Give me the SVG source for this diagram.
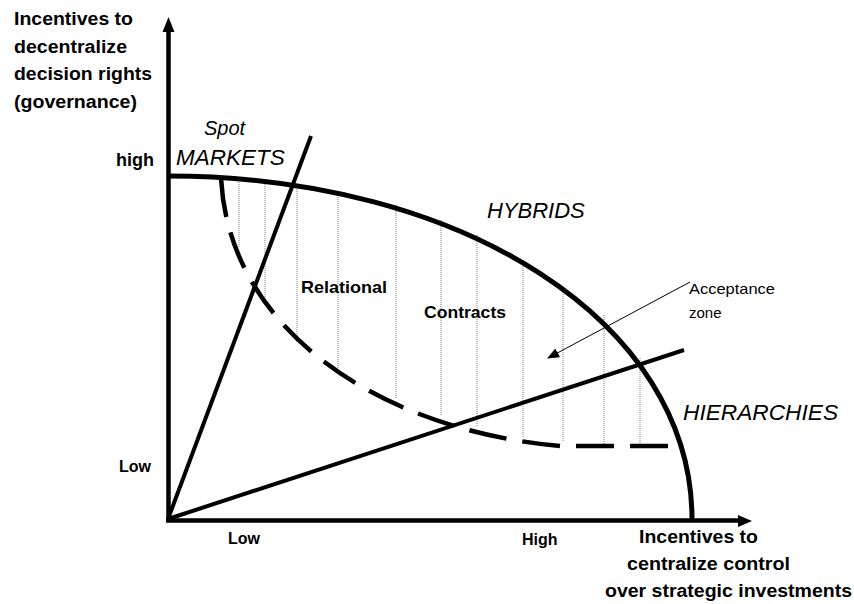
<svg xmlns="http://www.w3.org/2000/svg" width="854" height="604" viewBox="0 0 854 604">
<style>
.bold{font-family:"Liberation Sans",Arial,sans-serif;font-weight:bold;fill:#000}
.ital{font-family:"Liberation Sans",Arial,sans-serif;font-style:italic;fill:#000}
.reg{font-family:"Liberation Sans",Arial,sans-serif;fill:#000}
.hatch{stroke:#7a7a7a;stroke-width:1;stroke-dasharray:1 1;fill:none}
.thick{stroke:#000;fill:none;stroke-linecap:butt}
</style>
<defs>
<marker id="ah" markerWidth="12" markerHeight="10" refX="11" refY="5" orient="auto" markerUnits="userSpaceOnUse">
<path d="M0,0 L12,5 L0,10 Z" fill="#000"/>
</marker>
</defs>
<rect width="854" height="604" fill="#fff"/>

<g id="hatching">
<line class="hatch" x1="239" y1="178" x2="239" y2="247"/>
<line class="hatch" x1="265" y1="180" x2="265" y2="300"/>
<line class="hatch" x1="297" y1="183" x2="297" y2="342"/>
<line class="hatch" x1="338" y1="193" x2="338" y2="372"/>
<line class="hatch" x1="396" y1="205" x2="396" y2="398"/>
<line class="hatch" x1="441" y1="220" x2="441" y2="415"/>
<line class="hatch" x1="477" y1="235" x2="477" y2="427"/>
<line class="hatch" x1="523" y1="260" x2="523" y2="437"/>
<line class="hatch" x1="563" y1="290" x2="563" y2="442"/>
<line class="hatch" x1="604" y1="315" x2="604" y2="445"/>
<line class="hatch" x1="640" y1="358" x2="640" y2="446"/>
</g>

<g id="connectors">
<path id="hybrid-frontier" class="thick" stroke-width="5" d="M168,176 C462,176 692,322 692,519"/>
<path id="acceptance-boundary" class="thick" stroke-width="4.5" stroke-dasharray="38 16" d="M668,446 L560,446 C380,430 228,330 221,177"/>
<line id="markets-line" class="thick" stroke-width="4" x1="168" y1="519" x2="311" y2="136"/>
<line id="hierarchies-line" class="thick" stroke-width="4" x1="168" y1="519" x2="684" y2="350"/>
<line id="acceptance-arrow" stroke="#000" stroke-width="1" x1="690" y1="282" x2="548" y2="358" marker-end="url(#ah)"/>
</g>

<g id="axes">
<line class="thick" stroke-width="4.5" x1="168.5" y1="522" x2="168.5" y2="30"/>
<polygon points="168.5,17 162.5,32 174.5,32" fill="#000"/>
<line class="thick" stroke-width="4.5" x1="166" y1="520.5" x2="740" y2="520.5"/>
<polygon points="752,521 738,515 738,527" fill="#000"/>
</g>

<g id="y-axis-label">
<text class="bold" font-size="18" x="14" y="25" textLength="119" lengthAdjust="spacingAndGlyphs">Incentives to</text>
<text class="bold" font-size="18" x="14" y="53" textLength="113" lengthAdjust="spacingAndGlyphs">decentralize</text>
<text class="bold" font-size="18" x="14" y="80" textLength="138" lengthAdjust="spacingAndGlyphs">decision rights</text>
<text class="bold" font-size="18" x="14" y="108" textLength="123" lengthAdjust="spacingAndGlyphs">(governance)</text>
</g>

<g id="x-axis-label">
<text class="bold" font-size="18" x="639" y="543" textLength="119" lengthAdjust="spacingAndGlyphs">Incentives to</text>
<text class="bold" font-size="18" x="627" y="570" textLength="163" lengthAdjust="spacingAndGlyphs">centralize control</text>
<text class="bold" font-size="18" x="605" y="597" textLength="247" lengthAdjust="spacingAndGlyphs">over strategic investments</text>
</g>

<g id="ticks">
<text class="bold" font-size="18" x="116" y="166">high</text>
<text class="bold" font-size="16" x="119" y="472">Low</text>
<text class="bold" font-size="16" x="228" y="544">Low</text>
<text class="bold" font-size="16" x="522" y="545">High</text>
</g>

<g id="markets">
<text class="ital" font-size="20" x="204" y="135">Spot</text>
<text class="ital" font-size="22.5" x="176" y="165">MARKETS</text>
</g>

<g id="hybrids">
<text class="ital" font-size="22" x="487" y="218">HYBRIDS</text>
</g>

<g id="hierarchies">
<text class="ital" font-size="22.7" x="683" y="420">HIERARCHIES</text>
</g>

<g id="relational-contracts">
<text class="bold" font-size="16.5" x="301" y="293" textLength="86" lengthAdjust="spacingAndGlyphs">Relational</text>
<text class="bold" font-size="16.5" x="424" y="318" textLength="82" lengthAdjust="spacingAndGlyphs">Contracts</text>
</g>

<g id="acceptance-zone">
<text class="reg" font-size="15" x="689" y="294" textLength="86" lengthAdjust="spacingAndGlyphs">Acceptance</text>
<text class="reg" font-size="15" x="689" y="318">zone</text>
</g>
</svg>
